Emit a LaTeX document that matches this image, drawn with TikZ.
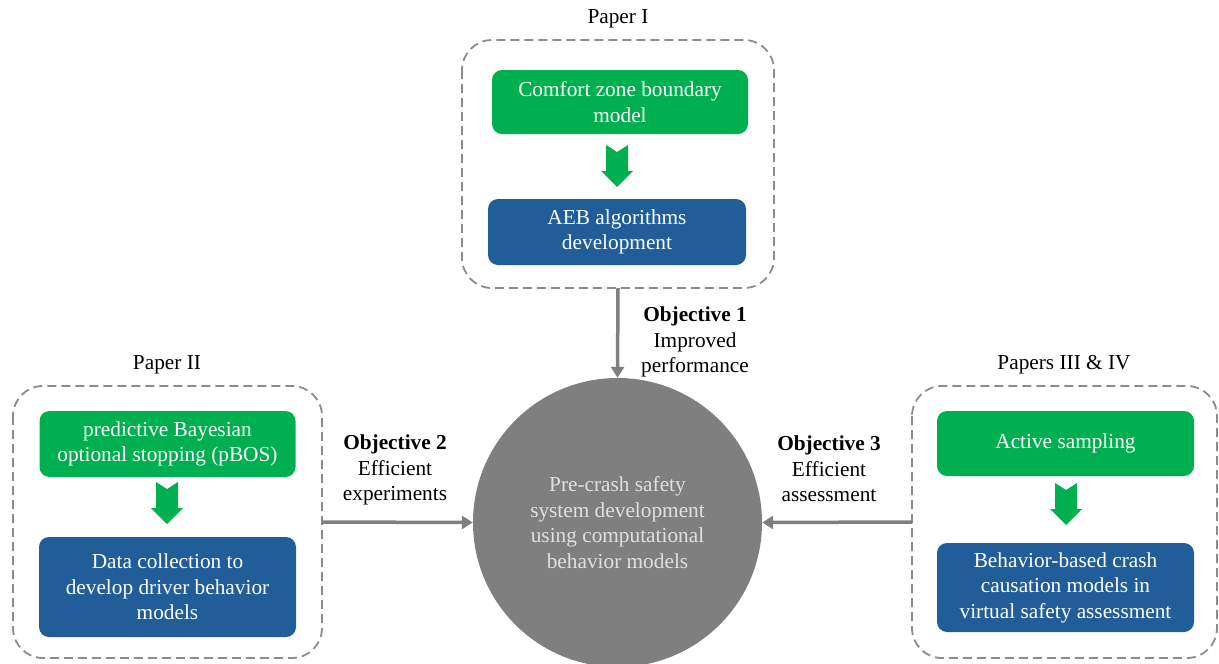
\documentclass[tikz,border=0pt]{standalone}
\usepackage{fontspec}
\setmainfont{Liberation Serif}
\usetikzlibrary{arrows.meta}
\definecolor{grn}{HTML}{00B050}
\definecolor{blu}{HTML}{215E99}
\definecolor{gry}{HTML}{7F7F7F}
\definecolor{dgry}{HTML}{8C8C8C}
\definecolor{ctext}{HTML}{E0E0E0}
\tikzset{
  x=1pt,y=-1pt,
  txt/.style={font=\fontsize{21.3}{25.5}\selectfont, align=center, inner sep=0pt},
  greenbox/.style={txt, fill=grn, text=white, rounded corners=10pt, minimum width=256pt},
  bluebox/.style={txt, fill=blu, text=white, rounded corners=10pt, minimum width=258pt},
  papbox/.style={draw=dgry, line width=1.8pt, dash pattern=on 9pt off 5pt, rounded corners=30pt},
  conn/.style={draw=gry, line width=3.5pt, -{Triangle[length=11pt,width=13pt]}},
  lbl/.style={txt, text=black},
  pics/downarrow/.style={code={
    \fill[grn] (-11,0) -- (0,7) -- (11,0) -- (11,26) -- (16,26) -- (0,42) -- (-16,26) -- (-11,26) -- cycle;
  }}
}
\begin{document}
\begin{tikzpicture}
\useasboundingbox (0,0) rectangle (1219,664);
\clip (0,0) rectangle (1219,664);

% Paper I
\node[lbl] (p1lab) at (618,19) {Paper I};
\draw[papbox] (462,40) rectangle (774,288);
\coordinate (p1bot) at (618,288);
\node[greenbox, minimum height=64pt] (p1g) at (620,102) {Comfort zone boundary\\model};
\pic at (617,145) {downarrow};
\node[bluebox, minimum height=66pt] (p1b) at (617,232) {AEB algorithms\\development};

% Paper II
\node[lbl] (p2lab) at (167,365) {Paper II};
\draw[papbox] (13,386) rectangle (322,658);
\coordinate (p2right) at (322,522);
\node[greenbox, minimum height=66pt] (p2g) at (167.5,444) {predictive Bayesian\\optional stopping (pBOS)};
\pic at (167,482) {downarrow};
\node[bluebox, minimum width=257pt, minimum height=100pt] (p2b) at (167.5,587) {Data collection to\\develop driver behavior\\models};

% Papers III & IV
\node[lbl] (p3lab) at (1064,365) {Papers III \& IV};
\draw[papbox] (912,386) rectangle (1217,658);
\coordinate (p3left) at (912,522);
\node[greenbox, minimum width=257pt, minimum height=65pt] (p3g) at (1065.5,443.5) {Active sampling};
\pic at (1066,483) {downarrow};
\node[bluebox, minimum width=257pt, minimum height=89pt] (p3b) at (1065.5,587.5) {Behavior-based crash\\causation models in\\virtual safety assessment};

% Central circle
\node[circle, fill=gry, minimum size=289pt, inner sep=0pt, txt, text=ctext] (core) at (617.5,522.5) {Pre-crash safety\\system development\\using computational\\behavior models};

% Connectors
\draw[conn] (p1bot) -- (core.north);
\draw[conn] (p2right) -- (core.west);
\draw[conn] (p3left) -- (core.east);

% Objective labels
\node[lbl] (o1) at (695,342) {\textbf{Objective 1}\\Improved\\performance};
\node[lbl] (o2) at (395,470) {\textbf{Objective 2}\\Efficient\\experiments};
\node[lbl] (o3) at (829,469) {\textbf{Objective 3}\\Efficient\\assessment};
\end{tikzpicture}
\end{document}
